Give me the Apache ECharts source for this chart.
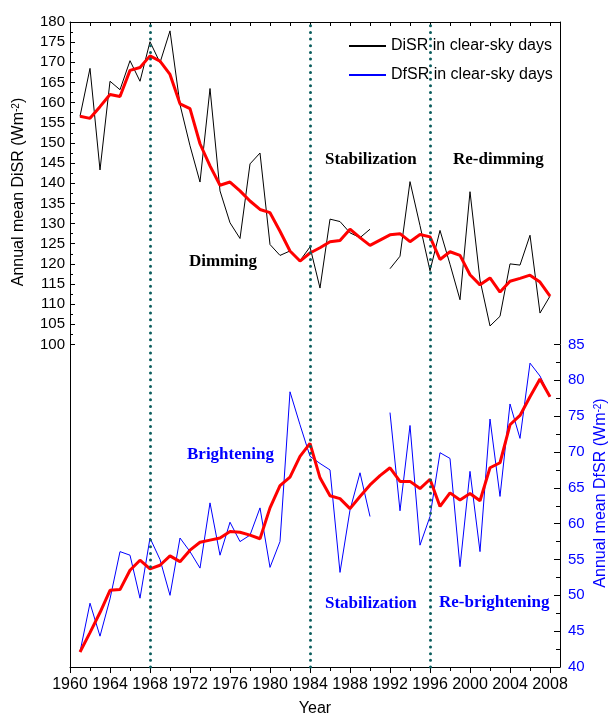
<!DOCTYPE html>
<html>
<head>
<meta charset="utf-8">
<script src="https://cdn.jsdelivr.net/npm/echarts@6/dist/echarts.min.js"></script>
<style>
  html, body { margin: 0; padding: 0; background: #fff; }
  #main { width: 612px; height: 719px; }
</style>
</head>
<body>
<div id="main"></div>
<script>
var years = [];
for (var yr = 1961; yr <= 2008; yr++) years.push(yr);

// direct SR (left axis)
var disr = [156.6, 168.5, 143.3, 165.3, 163.2, 170.4, 165.3, 175.1, 169.9, 177.8,
  159.5, 149.3, 140.3, 163.5, 138.1, 130.2, 126.3, 144.8, 147.5, 124.8,
  122.1, 123.2, 120.8, 124.2, 114.0, 131.1, 130.5, 127.7, 126.5, 128.6,
  null, 118.8, 121.9, 140.4, 129.5, 118.3, 128.3, 119.9, 111.1, 137.9,
  116.0, 104.6, 107.0, 120.0, 119.7, 127.1, 107.8, 112.0];
var disrSmooth = [156.6, 156.1, 159.0, 162.0, 161.5, 168.0, 168.7, 171.6, 170.3, 167.0,
  159.7, 158.5, 149.8, 144.3, 139.5, 140.3, 138.1, 135.6, 133.5, 132.7,
  128.1, 123.2, 120.7, 122.7, 124.0, 125.5, 125.8, 128.6, 126.5, 124.6,
  125.9, 127.2, 127.5, 125.5, 127.3, 126.7, 121.1, 123.0, 122.1, 117.3,
  114.8, 116.5, 113.0, 115.7, 116.4, 117.2, 115.5, 112.0];

// diffuse SR (right axis)
var dfsr = [42.1, 48.9, 44.3, 49.5, 56.1, 55.6, 49.6, 58.0, 55.0, 50.0,
  58.0, 56.1, 53.8, 62.9, 55.6, 60.2, 57.5, 58.4, 62.2, 53.9,
  57.5, 78.4, 73.8, 69.4, 68.4, 67.5, 53.2, 61.9, 67.1, 61.0,
  null, 75.5, 61.8, 73.7, 57.0, 61.0, 69.9, 69.1, 54.0, 67.3,
  56.1, 74.6, 63.8, 76.7, 71.9, 82.4, 80.6, 77.7];
var dfsrSmooth = [42.1, 44.8, 47.6, 50.7, 50.8, 53.5, 54.9, 53.7, 54.2, 55.5,
  54.7, 56.3, 57.4, 57.7, 58.0, 58.9, 58.8, 58.4, 57.9, 62.2,
  65.3, 66.5, 69.4, 71.2, 66.4, 63.9, 63.5, 62.1, 63.8, 65.4,
  66.7, 67.8, 65.9, 65.9, 64.9, 66.2, 62.4, 64.3, 63.3, 64.2,
  63.2, 67.8, 68.5, 73.8, 75.1, 77.7, 80.2, 77.7];

var breakYears = [1968, 1984, 1996];

function range(a, b, step) {
  var out = [];
  for (var v = a; v <= b + 1e-9; v += step) out.push(v);
  return out;
}
function pairs(vals) {
  return years.map(function (y, i) { return [y, vals[i]]; });
}

var font = 'Liberation Sans';

var myChart = echarts.init(document.getElementById('main'));

var option = {
  animation: false,
  backgroundColor: '#fff',
  grid: { left: 70, right: 52, top: 22, bottom: 52, outerBoundsMode: 'none', containLabel: false },
  legend: {
    left: 343,
    top: 33,
    orient: 'vertical',
    itemWidth: 37,
    itemHeight: 14,
    itemGap: 13,
    itemStyle: { opacity: 0 },
    data: ['DiSR in clear-sky days', 'DfSR in clear-sky days'],
    textStyle: { fontFamily: font, fontSize: 16, color: '#000' }
  },
  xAxis: [
    {
      type: 'value', position: 'bottom', min: 1960, max: 2009, interval: 2,
      name: 'Year', nameLocation: 'middle', nameGap: 34,
      nameTextStyle: { fontFamily: font, fontSize: 16, color: '#000' },
      axisLine: { lineStyle: { color: '#000', width: 1 } },
      axisTick: { inside: false, length: 6, customValues: range(1960, 2008, 4), lineStyle: { color: '#000' } },
      axisLabel: {
        customValues: range(1960, 2008, 4), margin: 10, fontFamily: font, fontSize: 16, color: '#000',
        formatter: function (v) { return String(v); }
      },
      splitLine: { show: false }
    },
    {
      type: 'value', position: 'top', min: 1960, max: 2009, interval: 2,
      axisLine: { lineStyle: { color: '#000', width: 1 } },
      axisTick: { inside: true, length: 4, customValues: range(1960, 2008, 2), lineStyle: { color: '#000' } },
      axisLabel: { show: false },
      splitLine: { show: false }
    },
    {
      type: 'value', position: 'bottom', min: 1960, max: 2009, interval: 2,
      axisLine: { show: false },
      axisTick: { inside: false, length: 4, customValues: range(1962, 2006, 4), lineStyle: { color: '#000' } },
      axisLabel: { show: false },
      splitLine: { show: false }
    }
  ],
  yAxis: [
    {
      type: 'value', position: 'left', min: 20, max: 180, interval: 5,
      axisLine: { show: true, lineStyle: { color: '#000', width: 1 } },
      axisTick: { show: true, inside: true, length: 5, customValues: range(100, 180, 5), lineStyle: { color: '#000' } },
      axisLabel: { customValues: range(100, 180, 5), margin: 5, fontFamily: font, fontSize: 15, color: '#000' },
      splitLine: { show: false }
    },
    {
      type: 'value', position: 'right', min: 40, max: 130, interval: 5,
      axisLine: { show: true, lineStyle: { color: '#000', width: 1 } },
      axisTick: { show: true, inside: true, length: 6, customValues: range(40, 85, 5), lineStyle: { color: '#000' } },
      axisLabel: { customValues: range(40, 85, 5), margin: 8, fontFamily: font, fontSize: 15, color: '#0000ff' },
      splitLine: { show: false }
    },
    {
      type: 'value', position: 'left', min: 20, max: 180, interval: 5,
      axisLine: { show: false },
      axisTick: { show: true, inside: true, length: 3, customValues: range(102.5, 177.5, 5), lineStyle: { color: '#000' } },
      axisLabel: { show: false },
      splitLine: { show: false }
    },
    {
      type: 'value', position: 'right', min: 40, max: 130, interval: 5,
      axisLine: { show: false },
      axisTick: { show: true, inside: true, length: 4, customValues: range(42.5, 82.5, 5), lineStyle: { color: '#000' } },
      axisLabel: { show: false },
      splitLine: { show: false }
    }
  ],
  series: [
    {
      name: 'DiSR in clear-sky days', type: 'line', xAxisIndex: 0, yAxisIndex: 0,
      data: pairs(disr), symbol: 'none', connectNulls: false, z: 3,
      lineStyle: { color: '#000', width: 1 }, itemStyle: { color: '#000' },
      markLine: {
        silent: true, symbol: 'none', label: { show: false },
        lineStyle: { color: '#0b5e5e', width: 3, type: [0.01, 6.67], cap: 'round' },
        data: breakYears.map(function (y) { return { xAxis: y }; })
      }
    },
    {
      name: 'DfSR in clear-sky days', type: 'line', xAxisIndex: 0, yAxisIndex: 1,
      data: pairs(dfsr), symbol: 'none', connectNulls: false, z: 3,
      lineStyle: { color: '#0000ff', width: 1 }, itemStyle: { color: '#0000ff' }
    },
    {
      name: 'DiSR smooth', type: 'line', xAxisIndex: 0, yAxisIndex: 0,
      data: pairs(disrSmooth), symbol: 'none', z: 4,
      lineStyle: { color: '#ff0000', width: 3 }, itemStyle: { color: '#ff0000' }
    },
    {
      name: 'DfSR smooth', type: 'line', xAxisIndex: 0, yAxisIndex: 1,
      data: pairs(dfsrSmooth), symbol: 'none', z: 4,
      lineStyle: { color: '#ff0000', width: 3 }, itemStyle: { color: '#ff0000' }
    }
  ],
  graphic: [
    {
      type: 'text', x: 19, y: 192, rotation: Math.PI / 2,
      style: {
        text: 'Annual mean DiSR (Wm{sup|-2})', align: 'center', verticalAlign: 'middle',
        font: '16px "Liberation Sans"', fill: '#000',
        rich: { sup: { fontSize: 10, fontFamily: font, verticalAlign: 'top', fill: '#000' } }
      }
    },
    {
      type: 'text', x: 601, y: 493, rotation: Math.PI / 2,
      style: {
        text: 'Annual mean DfSR (Wm{sup|-2})', align: 'center', verticalAlign: 'middle',
        font: '16px "Liberation Sans"', fill: '#0000ff',
        rich: { sup: { fontSize: 10, fontFamily: font, verticalAlign: 'top', fill: '#0000ff' } }
      }
    },
    { type: 'text', x: 189, y: 262, style: { text: 'Dimming', verticalAlign: 'middle', font: 'bold 17px "Liberation Serif"', fill: '#000' } },
    { type: 'text', x: 325, y: 160, style: { text: 'Stabilization', verticalAlign: 'middle', font: 'bold 17px "Liberation Serif"', fill: '#000' } },
    { type: 'text', x: 453, y: 160, style: { text: 'Re-dimming', verticalAlign: 'middle', font: 'bold 17px "Liberation Serif"', fill: '#000' } },
    { type: 'text', x: 187, y: 455, style: { text: 'Brightening', verticalAlign: 'middle', font: 'bold 17px "Liberation Serif"', fill: '#0000ff' } },
    { type: 'text', x: 325, y: 604, style: { text: 'Stabilization', verticalAlign: 'middle', font: 'bold 17px "Liberation Serif"', fill: '#0000ff' } },
    { type: 'text', x: 439, y: 603, style: { text: 'Re-brightening', verticalAlign: 'middle', font: 'bold 17px "Liberation Serif"', fill: '#0000ff' } }
  ]
};

myChart.setOption(option);
</script>
</body>
</html>
